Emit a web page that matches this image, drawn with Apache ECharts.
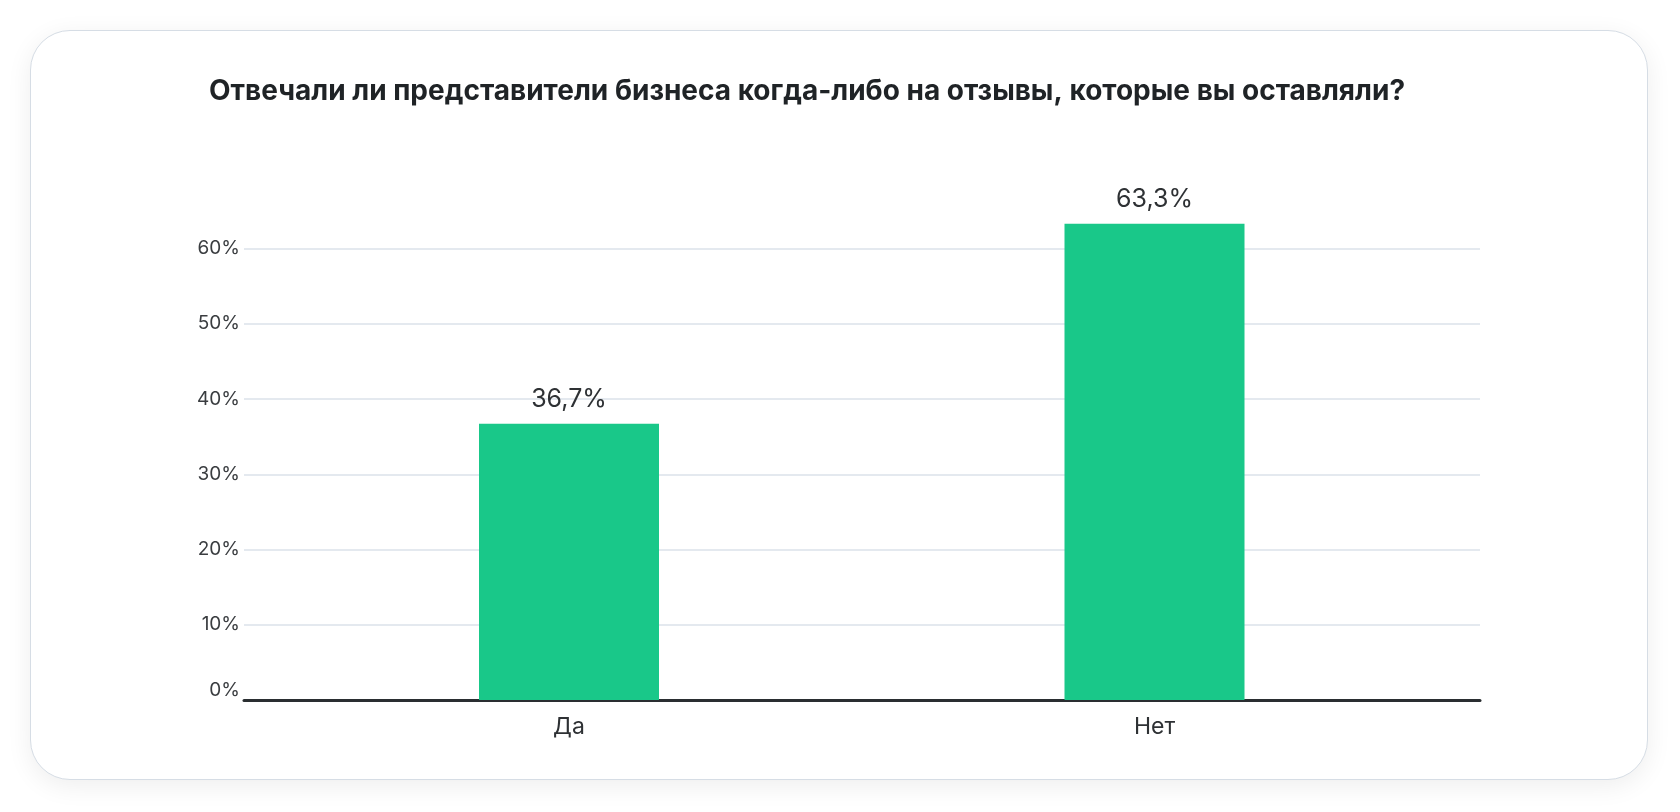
<!DOCTYPE html>
<html>
<head>
<meta charset="utf-8">
<script src="https://cdn.jsdelivr.net/npm/echarts@6/dist/echarts.min.js"></script>
<style>
  html, body { margin: 0; padding: 0; background: #ffffff; width: 1680px; height: 812px; overflow: hidden; }
  #card { position: absolute; left: 30px; top: 30px; width: 1618px; height: 750px; background: #fff;
          border: 1px solid #d6dde5; border-radius: 40px; box-shadow: 0 6px 26px rgba(0,0,0,0.07); box-sizing: border-box; }
  #chart { position: absolute; left: 0; top: 0; width: 1680px; height: 812px; }
</style>
</head>
<body>
<div id="card"></div>
<div id="chart"></div>
<script>
const titleText = 'Отвечали ли представители бизнеса когда-либо на отзывы, которые вы оставляли?';
const categories = ['Да', 'Нет'];
const values = [36.7, 63.3];
const yTicks = [0, 10, 20, 30, 40, 50, 60];

const FONT = 'Inter, "Noto Sans", sans-serif';
const chart = echarts.init(document.getElementById('chart'), null, { renderer: 'canvas' });

const yMin = yTicks[0], yMax = yTicks[yTicks.length - 1], yStep = yTicks[1] - yTicks[0];

chart.setOption({
  backgroundColor: 'transparent',
  animation: false,
  title: {
    text: titleText,
    left: 209, top: 75, padding: 0,
    textStyle: { fontFamily: FONT, fontSize: 28, fontWeight: 'bold', color: '#1f2326', lineHeight: 34 }
  },
  grid: [
    { left: 244, right: 200, top: 248.5, bottom: 112 },
    { left: 276.25, right: 232.75, top: 248.5, bottom: 112 }
  ],
  xAxis: [
    { gridIndex: 0, type: 'category', data: categories, boundaryGap: true,
      axisLine: { show: true, lineStyle: { color: '#2a2e31', width: 3 } },
      axisTick: { show: false }, axisLabel: { show: false }, splitLine: { show: false } },
    { gridIndex: 1, type: 'category', data: categories,
      axisLine: { show: false }, axisTick: { show: false },
      axisLabel: { show: true, margin: 16, fontFamily: FONT, fontSize: 23, color: '#2e3134' } }
  ],
  yAxis: [
    { gridIndex: 0, type: 'value', min: yMin, max: yMax, interval: yStep,
      axisLine: { show: false }, axisTick: { show: false },
      axisLabel: { margin: 4, fontFamily: FONT, fontSize: 19, color: '#3a3d40', formatter: '{value}%',
                   verticalAlignMinLabel: 'bottom' },
      splitLine: { show: true, lineStyle: { color: '#e4e9ef', width: 2 } } },
    { gridIndex: 1, type: 'value', min: yMin, max: yMax, interval: yStep, show: false,
      splitLine: { show: false } }
  ],
  series: [{
    type: 'bar', xAxisIndex: 1, yAxisIndex: 1,
    data: values, barWidth: 180, clip: false,
    itemStyle: { color: '#19c889' },
    label: { show: true, position: 'top', distance: 12, fontFamily: FONT, fontSize: 25, color: '#2e3134',
             formatter: p => p.value.toFixed(1).replace('.', ',') + '%' }
  }]
});
</script>
</body>
</html>
